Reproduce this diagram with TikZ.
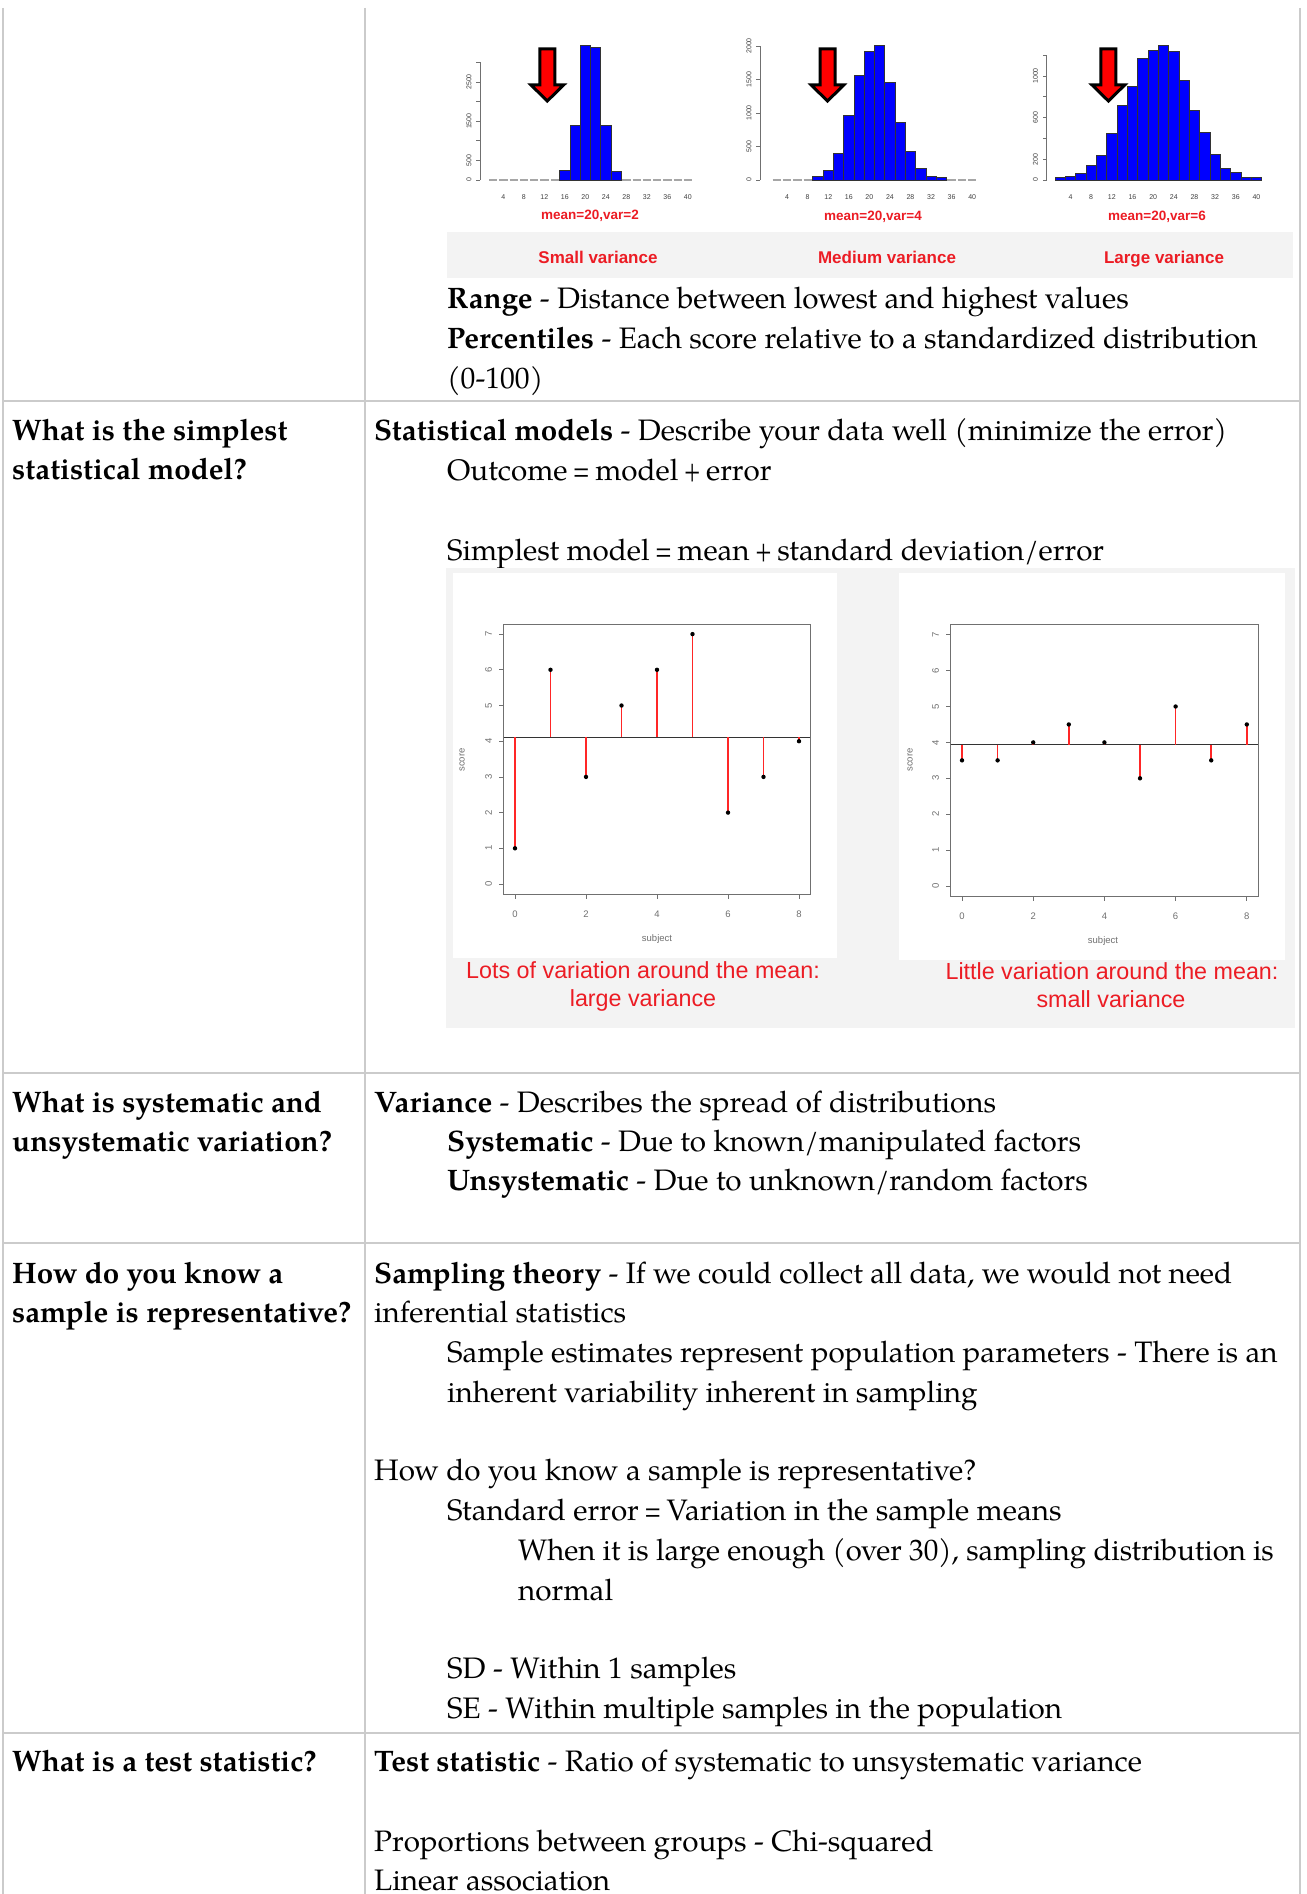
\documentclass[tikz,border=0pt]{standalone}
\usepackage{graphicx}
\usepackage{fontspec}
\setmainfont{TeX Gyre Pagella}
\newfontfamily\plotsans{Liberation Sans}
\definecolor{gridgrey}{HTML}{CBCBCB}
\definecolor{panelgrey}{HTML}{F3F3F3}
\definecolor{capred}{HTML}{EC1C24}
\definecolor{barblue}{HTML}{0000FF}
\definecolor{axisgrey}{HTML}{707070}
% narrower relation and plus signs in running text
\newcommand\teq{\kern-2pt\scalebox{0.75}[1]{=}\kern-2pt}
\newcommand\tplus{\kern-2pt\scalebox{0.75}[1]{+}\kern-2pt}
\tikzset{
  body/.style={anchor=base west, inner sep=0pt, font=\fontsize{29.6}{36}\selectfont},
  gridline/.style={draw=gridgrey, line width=2pt},
  histcap/.style={inner sep=0pt, anchor=base, text=capred, font=\plotsans\bfseries\fontsize{13.5}{15}\selectfont},
  histtitle/.style={inner sep=0pt, anchor=base, text=capred, font=\plotsans\bfseries\fontsize{17}{20}\selectfont},
  ticklbl/.style={inner sep=0pt, text=axisgrey, font=\plotsans\fontsize{9.5}{10}\selectfont},
  tinylbl/.style={inner sep=0pt, text=black!75, font=\plotsans\fontsize{7}{8}\selectfont},
  plotcap/.style={inner sep=0pt, anchor=base, text=capred, font=\plotsans\fontsize{23.3}{28}\selectfont},
  downarrow/.style={fill=red, draw=black, line width=3pt, miter limit=10},
  histbar/.style={fill=barblue, draw=black!80, line width=0.8pt},
  flatbar/.style={draw=gray!70, line width=1.2pt},
  axisline/.style={draw=axisgrey, line width=0.8pt},
  plotbox/.style={draw=axisgrey, line width=1pt},
  meanline/.style={draw=black!80, line width=1.4pt},
  stem/.style={draw=red!85, line width=1.5pt},
}

% bars of a histogram: #1 left edge, #2 bar width, #3 bar heights (px)
\newcommand\drawhist[3]{%
  \foreach \h [count=\i from 0] in {#3}{%
    \pgfmathsetmacro\xa{#1+#2*\i}%
    \pgfmathsetmacro\xb{\xa+#2}%
    \ifdim\h pt>0.5pt
      \draw[histbar] (\xa,180) rectangle (\xb,180-\h);
    \else
      \draw[flatbar] (\xa+1,180) -- (\xb-1,180);
    \fi
  }%
  \foreach \v [count=\i] in {4,8,...,40}{%
    \node[tinylbl] (xl#1-\i) at ({#1+#2*(\v/2-0.5)},197) {\v};
  }%
}
% red arrow pointing down, centred on #1
\newcommand\meanarrow[1]{%
  \draw[downarrow] (#1-7.5,49) -- (#1+7.5,49) -- (#1+7.5,85) -- (#1+16.3,85)
    -- (#1,101) -- (#1-16.3,85) -- (#1-7.5,85) -- cycle;
}
% stem plot: #1,#2 origin, #3,#4 units, #5 mean, #6 scores, #7 name prefix
\newcommand\stemplot[7]{%
  \begin{scope}[shift={(#1pt,-#2pt)}, x=#3pt, y=#4pt]
    \draw[plotbox] (-0.32,-0.28) rectangle (8.32,7.28);
    \foreach \k in {0,...,7}{%
      \draw[axisline] (-0.32,\k) -- ++(-5pt,0);
      \node[ticklbl, rotate=90] (#7y\k) at (-0.32-15/#3,\k) {\k};
    }
    \foreach \k in {0,2,...,8}{%
      \draw[axisline] (\k,-0.28) -- ++(0,-5pt);
      \node[ticklbl] (#7x\k) at (\k,-0.28-20/#4) {\k};
    }
    \draw[meanline] (-0.32,#5) -- (8.32,#5);
    \foreach \s [count=\i from 0] in {#6}{%
      \draw[stem] (\i,#5) -- (\i,\s);
      \fill[black] (\i,\s) circle (2.2pt);
    }
  \end{scope}
}

\begin{document}
\begin{tikzpicture}[x=1pt, y=-1pt]
\useasboundingbox (0,0) rectangle (1306,1894);
\fill[white] (0,0) rectangle (1306,1894);

% ---------- table rules ----------
\draw[gridline] (3,8) -- (3,1894);
\draw[gridline] (365,8) -- (365,1894);
\draw[gridline] (1300,8) -- (1300,1894);
\foreach \yy in {401,1073,1243,1733}
  \draw[gridline] (3,\yy) -- (1300,\yy);

% ---------- histograms ----------
\fill[panelgrey] (447,232) rectangle (1293,278);

% small variance
\draw[axisline] (480,180) -- (480,62.4);
\foreach \t in {180,160.4,140.8,121.2,101.6,82,62.4}
  \draw[axisline] (480,\t) -- (476,\t);
\foreach \t/\l [count=\i] in {180/0,160.4/500,121.2/1500,82/2500}
  \node[tinylbl, rotate=90] (ha\i) at (469,\t) {\l};
\drawhist{488}{10.25}{0,0,0,0,0,0,0,9.3,55,134.3,132.7,55,8.3,0,0,0,0,0,0,0}
\meanarrow{547.3}
\node[histcap] (hca) at (590,220) {mean=20,var=2};
\node[histtitle] (hta) at (598,263) {Small variance};

% medium variance
\draw[axisline] (760,180) -- (760,46);
\foreach \t in {180,146.5,113,79.5,46}
  \draw[axisline] (760,\t) -- (756,\t);
\foreach \t/\l [count=\i] in {180/0,146.5/500,113/1000,79.5/1500,46/2000}
  \node[tinylbl, rotate=90] (hb\i) at (749,\t) {\l};
\drawhist{771.7}{10.28}{0,0,0,0,3.3,10,26.7,65,105,128.3,134.3,97.7,57.3,28.7,11.7,4,2.3,0,0,0}
\meanarrow{827.5}
\node[histcap] (hcb) at (873,221) {mean=20,var=4};
\node[histtitle] (htb) at (887,263) {Medium variance};

% large variance
\draw[axisline] (1046.7,180) -- (1046.7,55.2);
\foreach \t in {180,159.2,138.4,117.6,96.8,76,55.2}
  \draw[axisline] (1046.7,\t) -- (1042.7,\t);
\foreach \t/\l [count=\i] in {180/0,159.2/200,117.6/600,76/1000}
  \node[tinylbl, rotate=90] (hc\i) at (1035.5,\t) {\l};
\drawhist{1055}{10.33}{2.3,4,6.7,14.3,25,46.3,75,93.3,121.7,129.3,134.3,128.3,100,70,47.3,26,11.7,7.3,2.3,2.3}
\meanarrow{1108.4}
\node[histcap] (hcc) at (1157,221) {mean=20,var=6};
\node[histtitle] (htc) at (1164,264) {Large variance};

% ---------- row 1 text ----------
\node[body] (rng) at (447,308) {\textbf{Range} - Distance between lowest and highest values};
\node[body] (pct) at (447,348) {\textbf{Percentiles} - Each score relative to a standardized distribution};
\node[body] (pctb) at (447,388) {(0-100)};

% ---------- row 2 ----------
\node[body] (q2a) at (12,440) {\textbf{What is the simplest}};
\node[body] (q2b) at (12,479) {\textbf{statistical model?}};
\node[body] (a2a) at (374,440) {\textbf{Statistical models} - Describe your data well (minimize the error)};
\node[body] (a2b) at (447,480) {Outcome \teq{} model \tplus{} error};
\node[body] (a2c) at (447,560) {Simplest model \teq{} mean \tplus{} standard deviation/error};

% stem plots on a grey panel
\fill[panelgrey] (446,568) rectangle (1295,1028);
\fill[white] (453,573) rectangle (837,958);
\fill[white] (899,573) rectangle (1285,960);
\stemplot{515}{884}{35.5}{35.7}{4.11}{1,6,3,5,6,7,2,3,4}{lp}
\stemplot{962}{886}{35.6}{35.9}{3.94}{3.5,3.5,4,4.5,4,3,5,3.5,4.5}{rp}
\node[ticklbl, rotate=90] (lscore) at (462,760) {score};
\node[ticklbl] (lsubj) at (657,939) {subject};
\node[ticklbl, rotate=90] (rscore) at (910,760) {score};
\node[ticklbl] (rsubj) at (1103,941) {subject};
\node[plotcap] (lcapa) at (643,978) {Lots of variation around the mean:};
\node[plotcap] (lcapb) at (643,1006) {large variance};
\node[plotcap] (rcapa) at (1112,979) {Little variation around the mean:};
\node[plotcap] (rcapb) at (1111,1007) {small variance};

% ---------- row 3 ----------
\node[body] (q3a) at (12,1112) {\textbf{What is systematic and}};
\node[body] (q3b) at (12,1151) {\textbf{unsystematic variation?}};
\node[body] (a3a) at (374,1112) {\textbf{Variance} - Describes the spread of distributions};
\node[body] (a3b) at (447,1151) {\textbf{Systematic} - Due to known/manipulated factors};
\node[body] (a3c) at (447,1190) {\textbf{Unsystematic} - Due to unknown/random factors};

% ---------- row 4 ----------
\node[body] (q4a) at (12,1283) {\textbf{How do you know a}};
\node[body] (q4b) at (12,1322) {\textbf{sample is representative?}};
\node[body] (a4a) at (374,1283) {\textbf{Sampling theory} - If we could collect all data, we would not need};
\node[body] (a4b) at (374,1322) {inferential statistics};
\node[body] (a4c) at (447,1362) {Sample estimates represent population parameters - There is an};
\node[body] (a4d) at (447,1402) {inherent variability inherent in sampling};
\node[body] (a4e) at (374,1480) {How do you know a sample is representative?};
\node[body] (a4f) at (447,1520) {Standard error \teq{} Variation in the sample means};
\node[body] (a4g) at (518,1560) {\scalebox{0.987}[1]{When it is large enough (over 30), sampling distribution is}};
\node[body] (a4h) at (518,1600) {normal};
\node[body] (a4i) at (447,1678) {SD - Within 1 samples};
\node[body] (a4j) at (447,1718) {SE - Within multiple samples in the population};

% ---------- row 5 ----------
\node[body] (q5a) at (12,1771) {\textbf{What is a test statistic?}};
\node[body] (a5a) at (374,1771) {\textbf{Test statistic} - Ratio of systematic to unsystematic variance};
\node[body] (a5b) at (374,1851) {Proportions between groups - Chi-squared};
\node[body] (a5c) at (374,1890) {Linear association};
\end{tikzpicture}
\end{document}
